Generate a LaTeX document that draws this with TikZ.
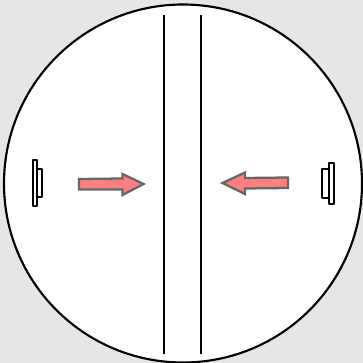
\documentclass[tikz,border=0pt]{standalone}
\definecolor{bgGray}{HTML}{E6E6E6}
\definecolor{arrowRed}{HTML}{FF8080}
\definecolor{arrowEdge}{HTML}{666666}
\tikzset{
	mirror/.style={draw=black, line width=1.5pt, fill=white},
	beam/.style={draw=arrowEdge, line width=1.7pt, fill=arrowRed, line join=miter},
}
\begin{document}
\begin{tikzpicture}[line join=round, x=0.75pt, y=-0.75pt]
	\path
	(0, 0) coordinate (TL)
	(363, 363) coordinate (BR)
	(183, 183.5) coordinate (O);
	\useasboundingbox (TL) rectangle (BR);
	\fill[bgGray] (TL) rectangle (BR);
	\draw[line width=1.6pt, fill=white] (O) circle (179);
	% plates
	\foreach \x in {164, 201} {
		\draw[line width=1.6pt] (\x, 15) -- (\x, 354);
	}
	% left side
	\draw[mirror] (37, 169.5) rectangle (41.5, 196.5);
	\draw[mirror] (32.5, 160) rectangle (37, 205.5);
	\filldraw[beam] (79, 179) -- (122.5, 178.5) -- (122.5, 174) -- (143.5, 184) -- (122.5, 195) -- (122.5, 189.5) -- (79, 189.5) -- cycle;
	% right side
	\draw[mirror] (322, 169) rectangle (328.5, 197.5);
	\draw[mirror] (329, 163) rectangle (334, 203.5);
	\filldraw[beam] (288, 177.5) -- (245, 178) -- (245, 172.5) -- (222.5, 183) -- (245, 194) -- (245, 188.5) -- (288, 188) -- cycle;
\end{tikzpicture}
\end{document}
